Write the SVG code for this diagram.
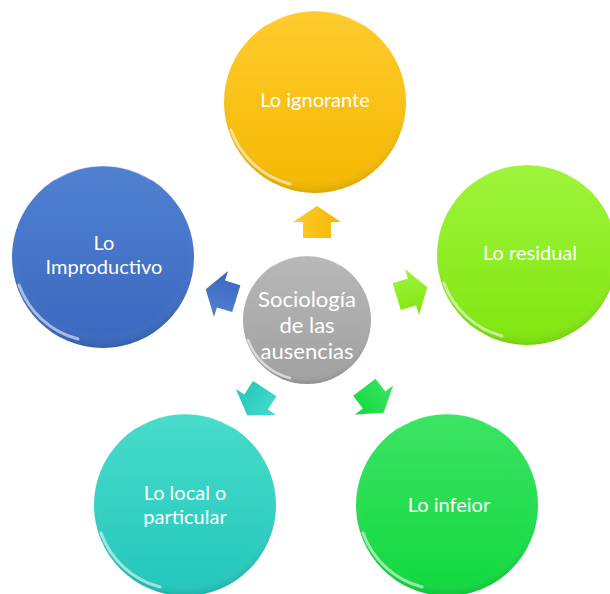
<svg xmlns="http://www.w3.org/2000/svg" width="610" height="594" viewBox="0 0 610 594">
  <style>
    .lbl { font-family: Lato, "Liberation Sans", sans-serif; font-size: 20px; fill: #ffffff; text-anchor: middle; }
    .ctr { font-family: Lato, "Liberation Sans", sans-serif; font-size: 22px; fill: #ffffff; text-anchor: middle; }
    .rim { fill: none; stroke: #ffffff; stroke-linecap: round; }
  </style>
  <defs>
    <linearGradient id="gY" x1="0" y1="0" x2="0" y2="1"><stop offset="0" stop-color="#FFCB2E"/><stop offset="1" stop-color="#F4B800"/></linearGradient>
    <linearGradient id="gL" x1="0" y1="0" x2="0" y2="1"><stop offset="0" stop-color="#9EF43C"/><stop offset="1" stop-color="#80E60E"/></linearGradient>
    <linearGradient id="gB" x1="0" y1="0" x2="0" y2="1"><stop offset="0" stop-color="#5081D2"/><stop offset="1" stop-color="#3A67BE"/></linearGradient>
    <linearGradient id="gT" x1="0" y1="0" x2="0" y2="1"><stop offset="0" stop-color="#48DCCB"/><stop offset="1" stop-color="#22C6BB"/></linearGradient>
    <linearGradient id="gG" x1="0" y1="0" x2="0" y2="1"><stop offset="0" stop-color="#3CE464"/><stop offset="1" stop-color="#10D83E"/></linearGradient>
    <linearGradient id="gC" x1="0" y1="0" x2="0" y2="1"><stop offset="0" stop-color="#B8B8B8"/><stop offset="1" stop-color="#A0A0A0"/></linearGradient>
    <radialGradient id="shade" cx="0.5" cy="0.45" r="0.55">
      <stop offset="0.85" stop-color="#ffffff" stop-opacity="0"/>
      <stop offset="1" stop-color="#000000" stop-opacity="0.10"/>
    </radialGradient>
    <path id="arr" d="M-16,-14 L0,-14 L0,-24 L16,0 L0,24 L0,14 L-16,14 Z"/>
  </defs>

  <g id="connectors">
    <use href="#arr" transform="translate(317,222) rotate(-90)" fill="url(#gY)"/>
    <use href="#arr" transform="translate(412,292) rotate(-17)" fill="url(#gL)"/>
    <use href="#arr" transform="translate(374,400) rotate(53)" fill="url(#gG)"/>
    <use href="#arr" transform="translate(256,402) rotate(123)" fill="url(#gT)"/>
    <use href="#arr" transform="translate(221,294) rotate(197)" fill="url(#gB)"/>
  </g>

  <g id="n-ignorante">
    <circle cx="315" cy="102" r="91" fill="url(#gY)"/>
    <circle cx="315" cy="102" r="91" fill="url(#shade)"/>
    <path class="rim" d="M231,130 A86,86 0 0 0 290,184" stroke-width="3" stroke-opacity="0.55"/>
    <path class="rim" d="M268,24 A88,88 0 0 1 362,24" stroke-width="2" stroke-opacity="0.35"/>
    <text class="lbl" x="315" y="107">Lo ignorante</text>
  </g>

  <g id="n-residual">
    <circle cx="527" cy="255" r="90" fill="url(#gL)"/>
    <circle cx="527" cy="255" r="90" fill="url(#shade)"/>
    <path class="rim" d="M444,283 A85,85 0 0 0 502,336" stroke-width="3" stroke-opacity="0.55"/>
    <path class="rim" d="M480,178 A87,87 0 0 1 574,178" stroke-width="2" stroke-opacity="0.35"/>
    <text class="lbl" x="530" y="260">Lo residual</text>
  </g>

  <g id="n-improductivo">
    <circle cx="103" cy="257" r="91" fill="url(#gB)"/>
    <circle cx="103" cy="257" r="91" fill="url(#shade)"/>
    <path class="rim" d="M19,285 A86,86 0 0 0 78,339" stroke-width="3" stroke-opacity="0.55"/>
    <path class="rim" d="M56,179 A88,88 0 0 1 150,179" stroke-width="2" stroke-opacity="0.35"/>
    <text class="lbl" x="104" y="250">Lo</text>
    <text class="lbl" x="104" y="274">Improductivo</text>
  </g>

  <g id="n-local">
    <circle cx="185" cy="505" r="91" fill="url(#gT)"/>
    <circle cx="185" cy="505" r="91" fill="url(#shade)"/>
    <path class="rim" d="M101,533 A86,86 0 0 0 160,587" stroke-width="3" stroke-opacity="0.55"/>
    <path class="rim" d="M138,427 A88,88 0 0 1 232,427" stroke-width="2" stroke-opacity="0.35"/>
    <text class="lbl" x="185" y="500">Lo local o</text>
    <text class="lbl" x="185" y="524">particular</text>
  </g>

  <g id="n-inferior">
    <circle cx="447" cy="505" r="91" fill="url(#gG)"/>
    <circle cx="447" cy="505" r="91" fill="url(#shade)"/>
    <path class="rim" d="M363,533 A86,86 0 0 0 422,587" stroke-width="3" stroke-opacity="0.55"/>
    <path class="rim" d="M400,427 A88,88 0 0 1 494,427" stroke-width="2" stroke-opacity="0.35"/>
    <text class="lbl" x="449" y="512">Lo infeior</text>
  </g>

  <g id="n-center">
    <circle cx="307" cy="320" r="64" fill="url(#gC)"/>
    <circle cx="307" cy="320" r="64" fill="url(#shade)"/>
    <path class="rim" d="M248,340 A60,60 0 0 0 290,378" stroke-width="2.5" stroke-opacity="0.6"/>
    <path class="rim" d="M274,265 A62,62 0 0 1 340,265" stroke-width="2" stroke-opacity="0.35"/>
    <text class="ctr" x="307" y="307">Sociología</text>
    <text class="ctr" x="307" y="333">de las</text>
    <text class="ctr" x="307" y="359">ausencias</text>
  </g>
</svg>
